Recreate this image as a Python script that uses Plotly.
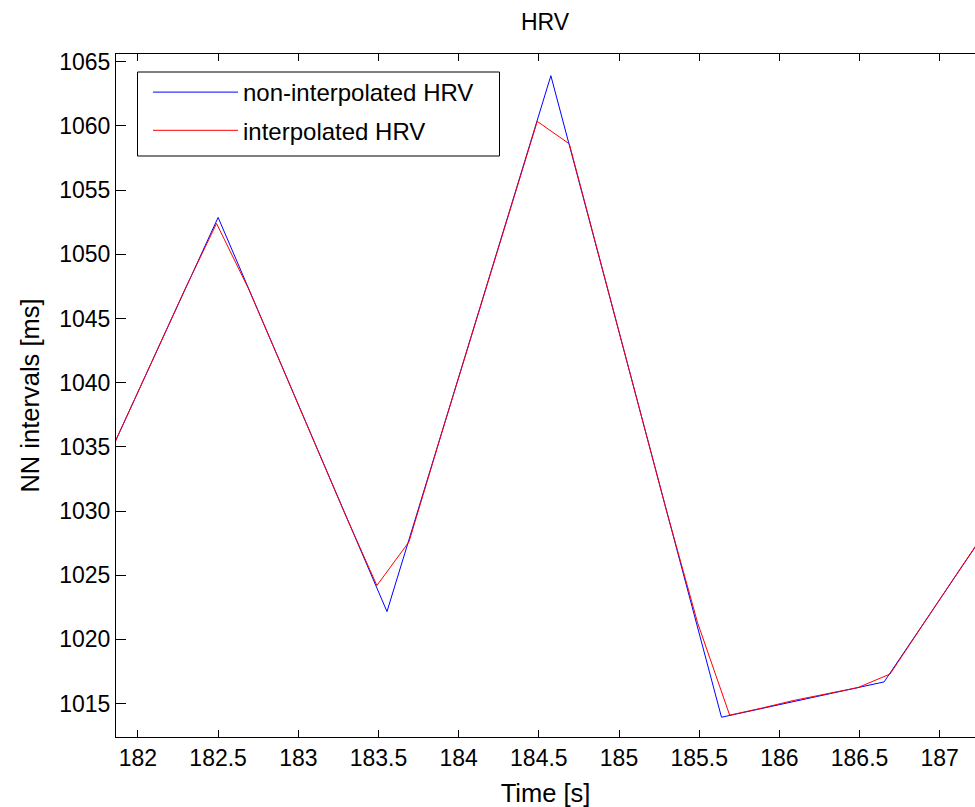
import plotly.graph_objects as go

# Non-interpolated HRV (beat times [s], NN intervals [ms])
raw_t = [181.475, 182.50, 183.553, 184.575, 185.639, 186.653, 187.67]
raw_nn = [1025.0, 1052.87, 1022.17, 1063.91, 1013.94, 1016.69, 1035.5]

# Interpolated HRV (regular time grid [s], NN intervals [ms])
int_t = [181.69, 181.89, 182.09, 182.29, 182.49, 182.69, 182.89, 183.09, 183.29,
         183.49, 183.69, 183.89, 184.09, 184.29, 184.49, 184.69, 184.89, 185.09,
         185.29, 185.49, 185.69, 185.89, 186.09, 186.29, 186.49, 186.69, 186.89,
         187.09, 187.29]
int_nn = [1030.8, 1036.3, 1041.7, 1047.2, 1052.4, 1047.3, 1041.5, 1035.7, 1029.8,
          1024.2, 1027.6, 1035.9, 1044.1, 1052.3, 1060.35, 1058.6, 1049.1, 1039.7,
          1030.3, 1021.3, 1014.1, 1014.65, 1015.25, 1015.75, 1016.25, 1017.3, 1021.1,
          1024.8, 1028.5]

x_ticks = [182, 182.5, 183, 183.5, 184, 184.5, 185, 185.5, 186, 186.5, 187]
x_tick_text = ["182", "182.5", "183", "183.5", "184", "184.5", "185", "185.5", "186", "186.5", "187"]
y_ticks = [1015, 1020, 1025, 1030, 1035, 1040, 1045, 1050, 1055, 1060, 1065]

FONT = "Liberation Sans, Arial, Helvetica, sans-serif"
FS = 23
FS_LAB = 25.5

W, H = 975, 807
ML, MT, MB = 116, 54, 70
PW, PH = W - ML, H - MT - MB


def px_x(p):
    return (p - ML) / PW


def px_y(p):
    return 1 - (p - MT) / PH


fig = go.Figure()
fig.add_trace(go.Scatter(x=raw_t, y=raw_nn, mode="lines", name="non-interpolated HRV",
                         line=dict(color="#0000ff", width=1), legendgroup="a"))
fig.add_trace(go.Scatter(x=int_t, y=int_nn, mode="lines", name="interpolated HRV",
                         line=dict(color="#ff0000", width=1), legendgroup="b"))

# legend box
fig.add_shape(type="rect", xref="paper", yref="paper",
              x0=px_x(137.5), x1=px_x(499.5), y0=px_y(156), y1=px_y(72),
              line=dict(color="black", width=1), fillcolor="white", layer="above")

fig.update_layout(
    width=W, height=H,
    margin=dict(l=ML, r=0, t=MT, b=MB, autoexpand=False),
    paper_bgcolor="white", plot_bgcolor="white",
    font=dict(family=FONT, size=FS, color="black"),
    title=dict(text="HRV", x=545 / W, xanchor="center", y=1 - 22 / H, yanchor="middle",
               font=dict(family=FONT, size=FS, color="black")),
    showlegend=True,
    legend=dict(x=px_x(148), y=px_y(70), xanchor="left", yanchor="top",
                bgcolor="rgba(0,0,0,0)", borderwidth=0,
                font=dict(family=FONT, size=24, color="black"),
                itemwidth=85, tracegroupgap=4, traceorder="grouped"),
    xaxis=dict(range=[181.863, 187.22], tickvals=x_ticks, ticktext=x_tick_text,
               showgrid=False, zeroline=False, showline=True, linecolor="black", linewidth=1,
               mirror="ticks", ticks="inside", ticklen=7, tickcolor="black", tickwidth=1,
               title=dict(text="Time [s]", standoff=14, font=dict(family=FONT, size=FS_LAB)),
               automargin=False),
    yaxis=dict(range=[1012.4, 1065.6], tickvals=y_ticks,
               showgrid=False, zeroline=False, showline=True, linecolor="black", linewidth=1,
               ticks="inside", ticklen=10, tickcolor="black", tickwidth=1,
               title=dict(text="NN intervals [ms]", standoff=12, font=dict(family=FONT, size=FS_LAB)),
               automargin=False),
)

fig.write_html("out.html")
